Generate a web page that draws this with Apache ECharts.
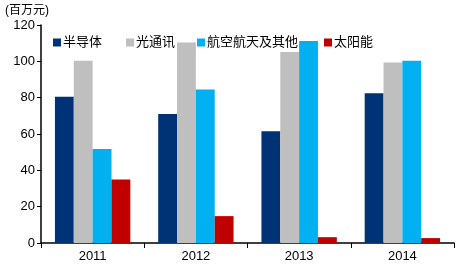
<!DOCTYPE html>
<html><head><meta charset="utf-8">
<script src="https://cdn.jsdelivr.net/npm/echarts@6/dist/echarts.min.js"></script>
<style>html,body{margin:0;padding:0;background:#fff}#c{width:456px;height:265px}</style>
</head><body><div id="c"></div>
<script>
const categories = ['2011','2012','2013','2014'];
const seriesNames = ['半导体','光通讯','航空航天及其他','太阳能'];
const semiconductor = [80.5, 71, 61.5, 82.5];
const optical = [100.3, 110.3, 105.2, 99.3];
const aerospace = [51.8, 84.5, 111.2, 100.3];
const solar = [35, 14.8, 3.2, 2.7];
const yTicks = [0,20,40,60,80,100,120];
const colors = ['#003376','#bfbfbf','#00b0f0','#c00000'];
const values = [semiconductor, optical, aerospace, solar];
const legendLeft = [53,126,197,324];

const chart = echarts.init(document.getElementById('c'));
const font = 'Arial, "Liberation Sans", "Noto Sans CJK SC", sans-serif';
chart.setOption({
  animation:false,
  textStyle:{fontFamily:font},
  grid:{left:41,right:2,top:25,bottom:22},
  graphic:[{type:'text',left:5,top:5,style:{text:'(百万元)',font:'12px '+font,fill:'#000'}}],
  legend: seriesNames.map((n,i)=>({top:36,left:legendLeft[i],itemWidth:8,itemHeight:8,icon:'rect',padding:0,
    textStyle:{fontSize:13,color:'#000',fontFamily:font,padding:[0,0,0,-3]},
    data:[n]})),
  xAxis:{type:'category',data:categories,
    axisLine:{lineStyle:{color:'#000',width:1.5}},
    axisTick:{show:true,length:5,lineStyle:{color:'#000'}},
    axisLabel:{fontSize:13,color:'#000',margin:7}},
  yAxis:{type:'value',min:0,max:120,interval:20,
    axisLine:{show:true,lineStyle:{color:'#000',width:1.5}},
    axisTick:{show:true,length:4,lineStyle:{color:'#000'}},
    splitLine:{show:false},
    axisLabel:{fontSize:13,color:'#000',margin:6,
      formatter:v=>yTicks.includes(v)?String(v):''}},
  series: seriesNames.map((n,i)=>({name:n,type:'bar',data:values[i],
    barGap:'0%',barCategoryGap:'27%',itemStyle:{color:colors[i]}}))
});
</script></body></html>
